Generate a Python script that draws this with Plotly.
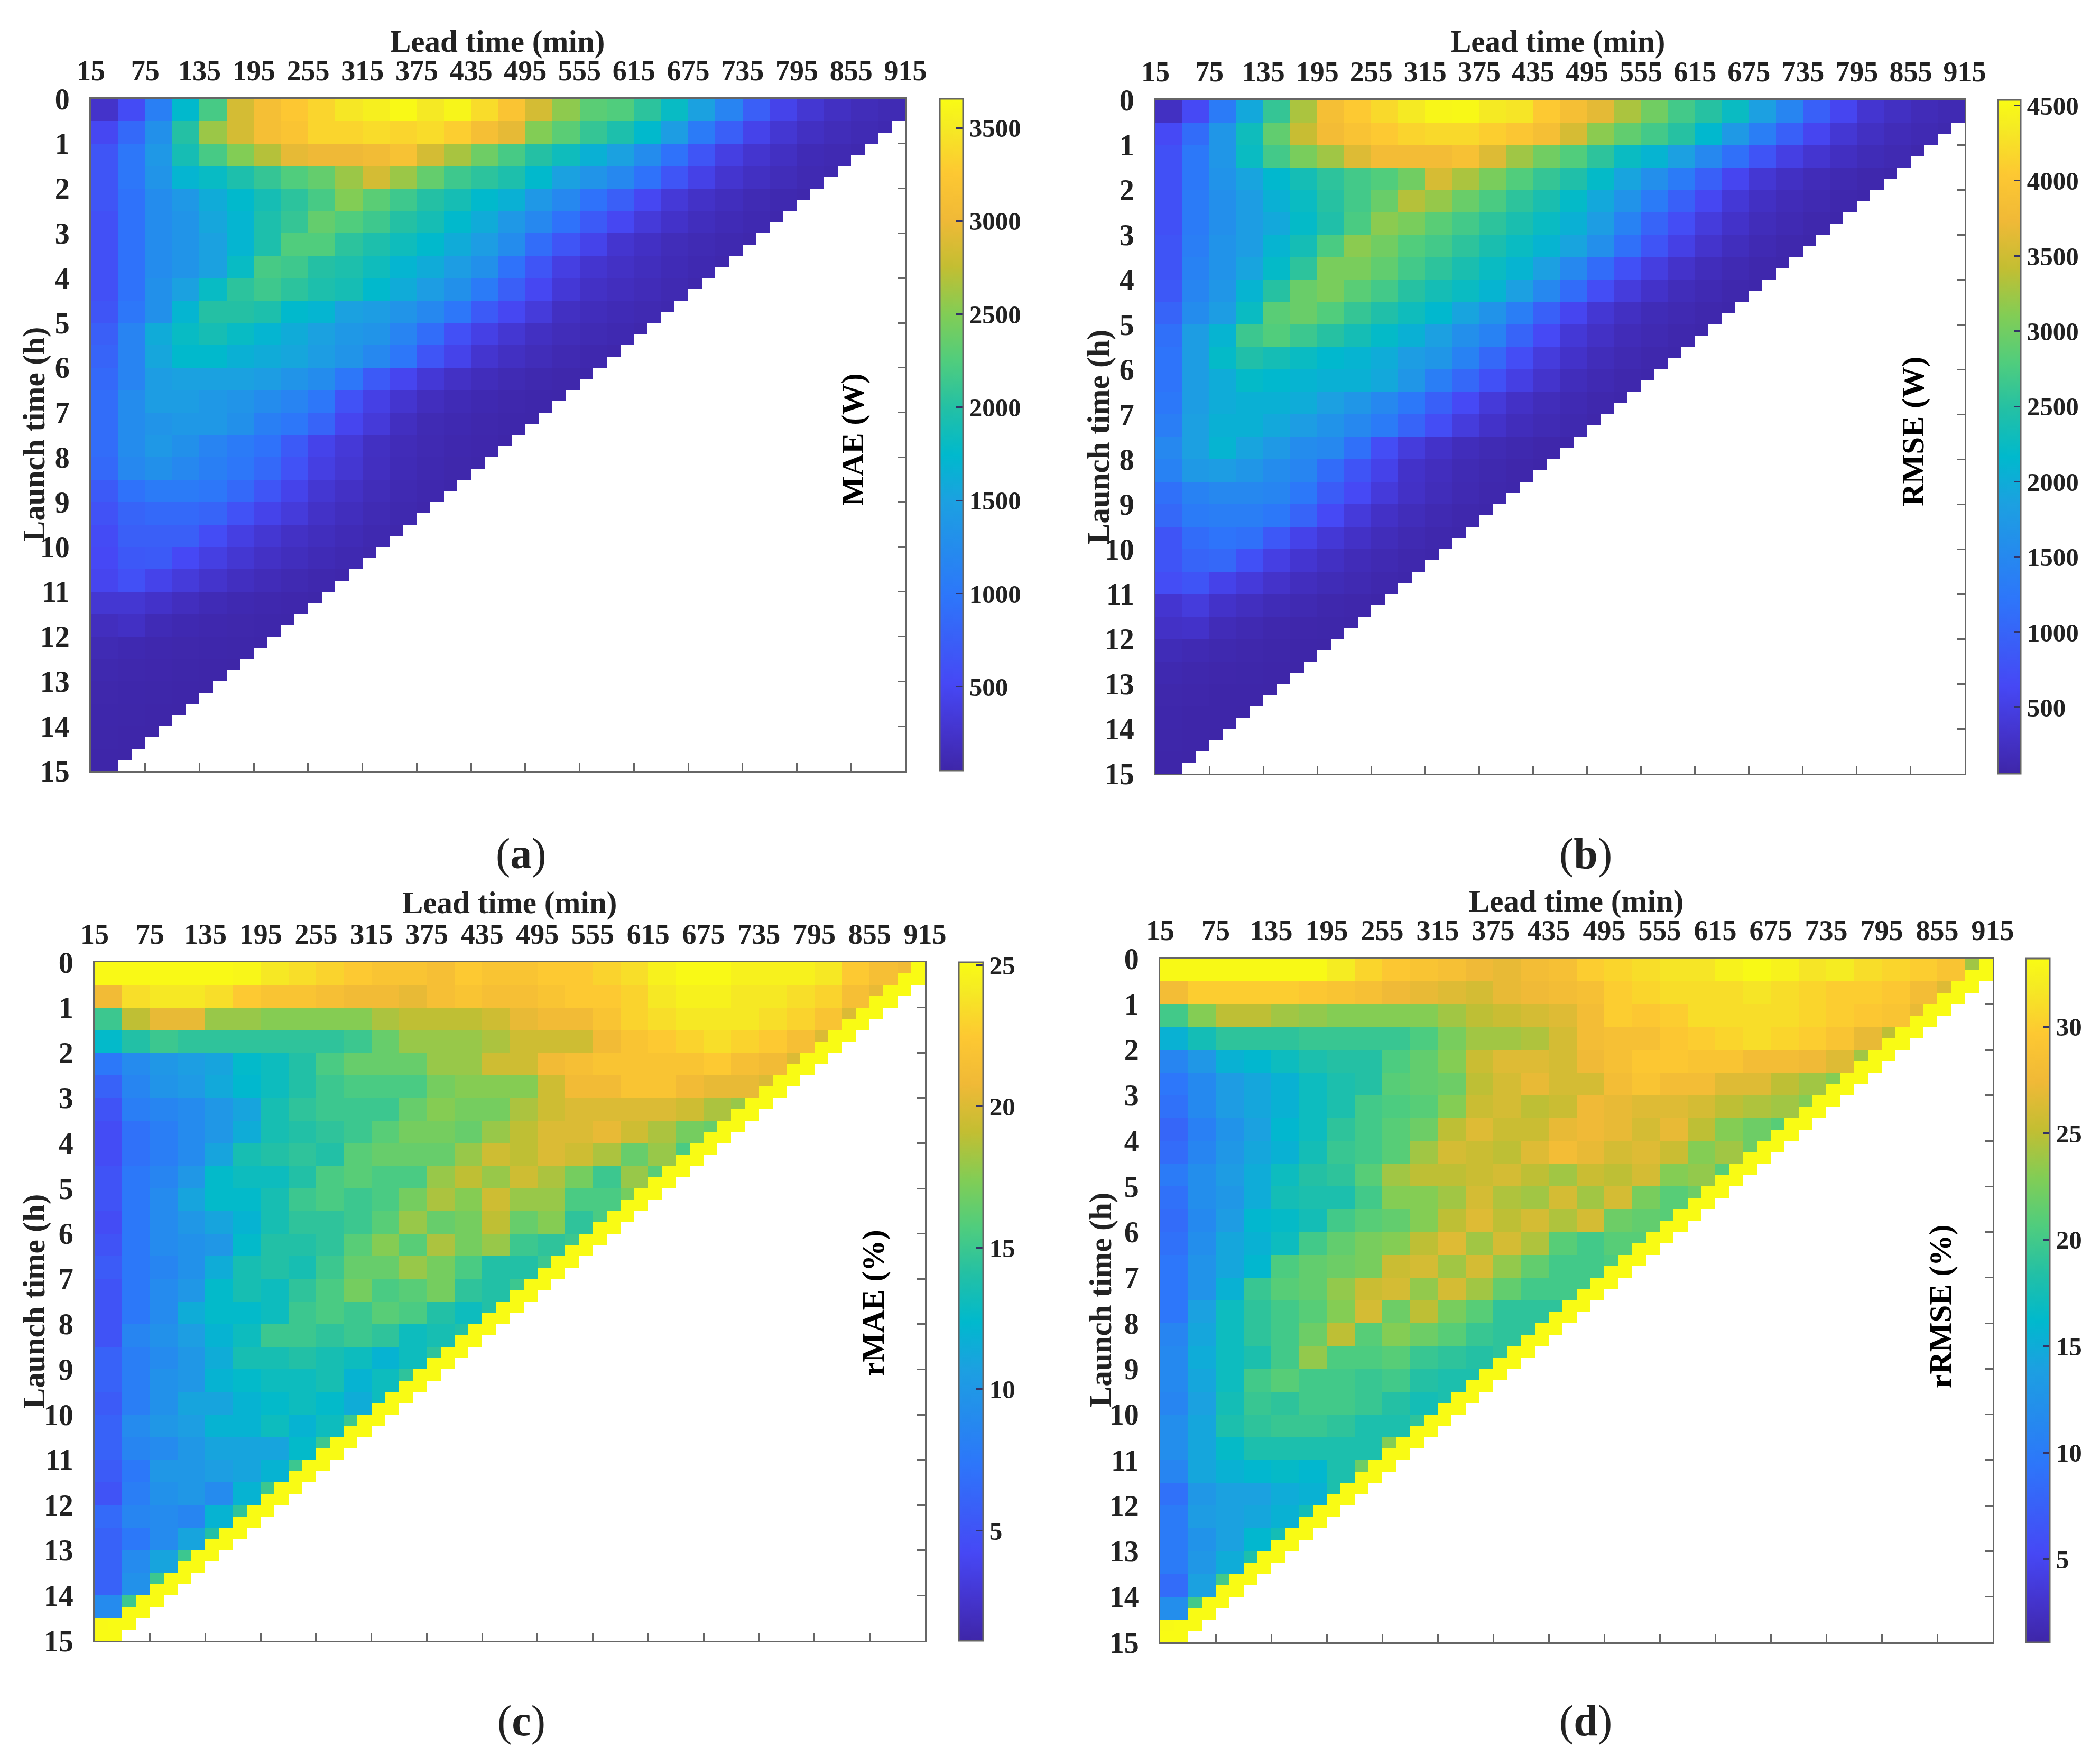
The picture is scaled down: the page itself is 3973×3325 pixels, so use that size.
import numpy as np
import plotly.graph_objects as go

W = 3973
H = 3325
PAGE_MARGIN = 8  # the page body pushes the figure this far right and down

# one row per half hour of launch time, one value per 30 min of lead time
mae_rows = [
    [250,550,1100,1750,2200,2850,3100,3250,3350,3480,3550,3640,3500,3600,3400,3200,2850,2550,2300,2250,2050,1800,1500,1150,750,450,300,200,150,120],
    [500,850,1300,2000,2600,2850,3100,3200,3350,3350,3400,3350,3400,3300,3100,2950,2500,2300,2100,1950,1750,1450,1050,750,450,300,200,150,120,100],
    [650,1000,1400,1900,2200,2500,2700,2950,3000,3000,3050,3150,2850,2650,2400,2200,2000,1850,1650,1500,1250,950,650,400,280,200,130,110,90],
    [650,1000,1350,1700,1800,1950,2100,2250,2350,2600,2850,2600,2350,2150,2050,1950,1750,1500,1350,1200,950,650,430,280,200,150,110,90],
    [650,950,1250,1400,1600,1750,1900,2050,2200,2500,2300,2150,2000,1900,1750,1650,1400,1200,950,750,500,330,230,170,120,95,80],
    [600,950,1250,1350,1550,1700,1950,2100,2350,2250,2150,2000,1900,1750,1600,1400,1200,950,700,500,340,240,170,130,100,80],
    [600,950,1250,1350,1500,1700,1950,2250,2250,2050,1950,1850,1750,1600,1450,1250,900,650,450,280,210,150,120,95,80],
    [600,950,1250,1350,1500,1800,2200,2150,2000,1950,1850,1700,1600,1450,1300,950,650,400,280,220,170,130,100,80],
    [600,950,1300,1500,1800,2050,2150,2050,1950,1900,1750,1600,1450,1300,1050,750,500,320,220,180,140,105,80],
    [650,1000,1300,1700,2000,2000,1950,1750,1700,1500,1450,1350,1200,1000,700,500,350,200,160,130,110,90],
    [750,1150,1600,1800,1900,1800,1700,1600,1500,1400,1350,1150,900,600,420,300,200,150,120,100,80],
    [800,1150,1550,1750,1750,1650,1600,1550,1450,1350,1200,1000,650,450,280,200,150,110,85,70],
    [850,1150,1450,1500,1500,1500,1450,1350,1250,1000,700,480,320,220,160,120,90,75,60],
    [900,1250,1450,1450,1400,1350,1250,1150,1000,620,420,280,180,130,100,80,65,60],
    [900,1250,1350,1400,1400,1300,1100,1000,800,480,340,190,120,100,80,65,60],
    [900,1250,1400,1300,1150,1050,950,700,450,330,200,140,110,85,70,55],
    [850,1200,1300,1200,1100,1000,850,620,400,300,190,130,95,75,60],
    [700,950,1050,1050,1000,850,650,450,300,220,150,110,85,65],
    [620,800,850,850,800,620,450,350,230,170,120,90,70],
    [550,750,750,750,560,400,300,220,170,130,95,75],
    [520,680,700,520,400,300,220,170,130,100,80],
    [480,600,450,350,260,190,140,110,85,70],
    [300,300,240,180,130,100,85,70,60],
    [180,210,130,100,85,75,65,60],
    [120,100,85,75,65,60,55],
    [90,80,70,60,55,50],
    [75,65,60,55,50],
    [65,60,55,50],
    [60,55,50],
    [55,50],
]

rmse_rows = [
    [250,650,1300,1950,2600,3300,3850,4050,4200,4350,4480,4500,4350,4300,4050,3850,3650,3300,3000,2700,2500,2250,1850,1450,950,600,350,250,180,140],
    [650,1100,1700,2300,2900,3450,3800,3950,4050,4150,4200,4200,4100,4000,3850,3550,3150,2900,2700,2500,2150,1750,1350,950,600,380,250,180,140,110],
    [750,1250,1700,2250,2700,3050,3250,3600,3800,3800,3800,3900,3600,3250,3000,2800,2550,2250,2100,1850,1500,1150,800,500,350,240,170,130,100],
    [750,1250,1650,1900,2150,2350,2550,2700,2800,3000,3550,3300,3050,2800,2600,2450,2200,1900,1600,1300,950,600,380,260,180,130,100,80],
    [750,1300,1600,1800,2050,2250,2500,2700,2950,3350,3200,2950,2750,2550,2400,2200,1950,1650,1300,950,620,400,260,180,130,100,80],
    [750,1300,1600,1800,1950,2200,2450,2750,3150,3050,2850,2700,2550,2400,2250,2050,1800,1400,1000,700,450,300,190,140,100,80],
    [800,1350,1650,1800,2100,2350,2750,3150,3000,2800,2700,2550,2400,2250,2100,1900,1600,1150,800,520,320,210,140,100,80],
    [800,1400,1650,1900,2200,2550,3050,3050,2900,2700,2550,2400,2250,2100,1850,1500,1100,750,480,310,200,140,100,80],
    [850,1450,1700,2100,2500,2950,3050,2850,2700,2500,2350,2250,2100,1850,1500,1100,700,450,300,190,140,100,80],
    [1000,1550,1800,2250,2850,2950,2800,2600,2450,2300,2150,1900,1650,1350,950,600,380,250,170,130,100,80],
    [1150,1800,2100,2650,2800,2650,2500,2350,2200,2050,1850,1600,1400,1000,650,400,270,180,130,100,80],
    [1200,1800,2200,2450,2350,2250,2150,2100,2000,1800,1700,1400,1050,700,450,300,190,130,100,80],
    [1200,1800,2000,2200,2150,2100,2050,2050,1950,1700,1350,1050,750,500,320,200,140,100,80],
    [1250,1800,2000,2050,2050,2000,1850,1700,1500,1250,950,650,420,280,190,140,100,80],
    [1350,1850,2050,2050,1950,1800,1650,1500,1300,1000,700,450,300,200,150,110,85],
    [1500,1850,2100,1900,1750,1550,1500,1150,700,450,300,200,150,110,85,70],
    [1400,1750,1800,1700,1550,1450,1100,800,550,300,220,150,110,85,70],
    [1150,1400,1500,1500,1450,1250,900,650,430,280,190,130,100,80],
    [1050,1300,1350,1350,1250,1000,650,430,280,190,130,100,80],
    [800,1100,1200,1150,850,550,400,280,190,130,100,80],
    [800,1000,1050,750,500,350,260,180,130,100,80],
    [700,800,550,430,310,220,170,130,100,80],
    [350,450,300,230,170,130,100,85,70],
    [280,300,180,130,100,85,75,65],
    [170,140,110,90,75,65,60],
    [120,100,85,75,65,60],
    [90,85,70,65,60],
    [80,70,65,60],
    [75,65,60],
    [70,60],
]

rmae_rows = [
    [25,25,25,25,25,24.8,24,23.5,23,22.5,22,22,21.5,22.5,22,22,22.5,22.5,23,23.5,24.5,25,25,24.5,24.5,24.5,24,22.5,21.5,21],
    [21,23.5,24,24,23.5,22.5,22,22,21.5,21,21,20.5,21.5,22,21.5,21.5,22,22.5,22.5,23,24,24.5,24.5,24,24,23.5,23,21.5,20.5,20.5],
    [15,19,20.5,20.5,18,18,17.5,17.5,17.5,17.5,18.5,19,19,19,19.5,20.5,21,21,22,23,23.5,24,24,24,23.5,23,22,20,19.5],
    [12.5,14,15,14.5,14.5,14.5,14.5,14.5,14.5,15,16.5,18,18,18,18.5,19.5,19.5,19.5,21,22,22.5,23,23.5,23,22.5,21.5,20,19],
    [7.5,9,10,10.5,11,12.5,13,14,15.5,16.5,16.5,16.5,18,18,19.5,19.5,21,21.5,22,22,22,22,22.5,21.5,21,20,18.5],
    [6,8.5,9.7,10.2,11.3,12.3,13,14,15,15.5,15.5,15.5,17,17.5,17.5,17.5,19.5,21,21,22,22,21,20.5,20.5,20,18],
    [5,8,8.5,9,10,11,13.5,14.5,15,15,15,16.5,17.5,17,17,18.5,19.5,20,20,20,20,19.5,18.5,18,17],
    [4.5,7,8,9,10,11.5,13.5,14,14.5,15,16,17,17,16.5,18,19,20,20,20.5,19.5,18.5,17,16.5,16],
    [4.5,7,8,9,11,13.5,14,14.5,14,16,16.5,16.5,16.5,18,19.5,19,20,19.5,18.5,16.5,18,15.5,15],
    [5,7.5,8.5,10,12.5,13,13,14,15.5,16,15.5,15.5,18,19,18,19.5,18.5,17,15,18,16,14],
    [5,7.5,9,11,12.5,12.5,13.5,15,15.5,15,15.5,17,18.5,17.5,19.5,18,18,15.5,15.5,17,15],
    [4.5,7.5,9,10,11,12,13.5,14.5,14.5,15,16,18,16.5,17,19,16.5,17.5,14.5,15.5,15],
    [5,7.5,9,9.5,10,12.5,14,14,14.5,16,17.5,16,18.5,17,18,15,14.5,15,15],
    [5.5,7.5,8.5,9.5,11.5,13.5,14,13.5,15,16.5,16.5,18,17,15.5,14,14,15,15],
    [5,7.5,9,10,12.5,13.5,13,14.5,15.5,17,15.5,16,17,14.5,14,15,15],
    [5,7.5,9,11.5,12.5,12.5,13,15,15.5,15,16,15.5,14,13,14,15],
    [5,8.5,9.5,10.5,12,13,15,15,14.5,15,14.5,13,13.5,14,14],
    [6,8,9,10,11.5,13.5,13.5,14,13.5,13,12,13,14.5,15],
    [6,8,9.5,10,12,12.5,13,13,13.5,12,13,14.5,15],
    [5.5,8,9.5,11,11,12,12.5,13,12.5,11.5,13,15],
    [6,9,10,10.5,12,12,13,12,13,15,15],
    [6,8.5,9,10,11,11,11,12.5,15,16],
    [5.5,7.5,10,10,10.5,11,12,15,16],
    [5,8,9.5,10,9,12,15,15],
    [6.5,8.5,9,8.5,12,14.5,14.5],
    [6,7.5,9,11,14,14],
    [6,9,11,15,15],
    [6,9.5,15,15],
    [9,15,15],
    [25,25],
]

rrmse_rows = [
    [33,33,33,33,33,33,32,30.5,29.5,29,28.5,27.5,27,28,28.5,30,30.5,31,31.5,31.5,32.5,33,32.5,31.5,32,31,30.5,30,29,24],
    [28,30,30,30,30,29.5,29,28.5,27.5,27,26.5,26,27,27.5,28,28.5,30,30.5,31,31,31,31.5,31,30.5,30,30,29.5,28,26.5,24],
    [20,23,25,25,24,23.5,23,23,23,23,24,25,25.5,26,26.5,28,30,29.5,30,31,31,31,31,30.5,30,29.5,29,27,24],
    [15.5,17.5,19,19,19,19.5,19.5,19.5,19.5,20.5,22.5,24,24,24.5,26,28,28.5,28.5,29.5,30,30.5,31,30.5,30,29,27,25,24],
    [11,13,15.5,16,17,18,18.5,18.5,20.5,21.5,23,25.5,26.5,26.5,26,27.5,28.5,29.5,29.5,29,29,28,28,27.5,26.5,24,23],
    [9.5,11.5,13.5,14.5,15.5,17,18,18.5,21,21.5,22,25,26,27,26,26,28,29,28,28,26.5,26.5,25,24,23,22],
    [9,11.5,13.5,14.5,15.5,17,18,20,20.5,21,23,25.5,26,25,25.5,27.5,27,26.5,26.5,26,25,24.5,24,23,22],
    [8,10.5,12.5,14,16,17,19,20,21,22,25,26.5,25.5,25.5,27,27.5,27,26,27,25,23,22,21,21],
    [8.5,11,13,14.5,15.5,17.5,19.5,20,21,24,26,25.5,25,26.5,28,27,26,26.5,25.5,23,24,22,20],
    [10,12,13.5,15,17,18.5,19,21,24,25,25,25.5,26,25,24,25.5,25,26,23,23.5,21,20],
    [9,12,13,15,17.5,18,18,20,23,23,24,26,24.5,24,26,24,26,22.5,21,22,20],
    [8.5,11.5,13.5,16,16.5,17.5,20,21,21.5,23,25,26.5,25,26,24.5,26,22,21.5,21,21],
    [9,12,14.5,15.5,17,20,21.5,22.5,23,25,26.5,24,26,24.5,21,20,21,21,20],
    [9.5,12.5,14.5,16,20.5,21.5,22,22.5,25.5,26,24,26,23.5,21.5,20,20,20.5,20],
    [9.5,12.5,15.5,19.5,21,21.5,23.5,25.5,26,23.5,26,24,21.5,20,20,20,19.5],
    [9.5,14,17,19,20,21,23,26,22,25,22.5,21,19,19,19,19],
    [11,14.5,17,19,20,22,25,21,23,22,21,19.5,19,19,19],
    [11.5,15,17,18,20,23.5,20.5,20.5,21,19.5,19,18.5,19,19],
    [11.5,14.5,17,20,21,20,20,19.5,20,18.5,18,18,19],
    [11,14,17.5,19.5,19,20,20,19.5,18.5,17.5,18,19],
    [12,14.5,18,19,19.5,19.5,19,18,18,19,21],
    [12,14.5,16.5,18,18,18,18,18,23,25],
    [11,14.5,15.5,16,16.5,16,18,22,20],
    [9,13,14,14,15,15.5,18,20],
    [10,13.5,14,14.5,15.5,17.5,20],
    [10,12.5,14,16,17.5,18],
    [10,13,15,18,18],
    [8.5,14,20,20],
    [12,20,20],
    [33,33],
]

lead_ticks = list(range(15, 916, 60))
launch_ticks = list(range(0, 16))
lead_centers = [22.5 + 15 * i for i in range(60)]
launch_centers = [0.125 + 0.25 * i for i in range(60)]

parula = [
    [0.00, "rgb(62,38,168)"],
    [0.06, "rgb(68,52,205)"],
    [0.13, "rgb(70,72,245)"],
    [0.26, "rgb(45,118,250)"],
    [0.40, "rgb(28,160,225)"],
    [0.47, "rgb(0,185,205)"],
    [0.54, "rgb(35,192,165)"],
    [0.61, "rgb(80,205,125)"],
    [0.68, "rgb(130,205,85)"],
    [0.75, "rgb(195,190,50)"],
    [0.82, "rgb(240,185,55)"],
    [0.89, "rgb(253,200,50)"],
    [0.96, "rgb(245,235,35)"],
    [1.00, "rgb(249,251,20)"],
]

FONT = "Liberation Serif"
DARK = "#222222"
GREY = "#666666"

# pixel boxes: plot left,right,top,bottom then colorbar left,right
panels = [
    dict(rows=mae_rows, name="MAE (W)", tag="a", zmin=49, zmax=3656, edge=None,
         ticks=[500, 1000, 1500, 2000, 2500, 3000, 3500],
         box=(172, 1713, 187, 1459), cb=(1778, 1822),
         lead=(941, 78), launch=(64, 822), unit=(1613, 832), label=(986, 1615)),
    dict(rows=rmse_rows, name="RMSE (W)", tag="b", zmin=61, zmax=4537, edge=None,
         ticks=[500, 1000, 1500, 2000, 2500, 3000, 3500, 4000, 4500],
         box=(2186, 3717, 189, 1464), cb=(3780, 3823),
         lead=(2947, 78), launch=(2078, 827), unit=(3619, 816), label=(3000, 1615)),
    dict(rows=rmae_rows, name="rMAE (%)", tag="c", zmin=1.1, zmax=25.1, edge=25.1,
         ticks=[5, 10, 15, 20, 25],
         box=(179, 1750, 1821, 3105), cb=(1814, 1860),
         lead=(964, 1708), launch=(64, 2463), unit=(1652, 2466), label=(986, 3256)),
    dict(rows=rrmse_rows, name="rRMSE (%)", tag="d", zmin=1.1, zmax=33.2, edge=33.2,
         ticks=[5, 10, 15, 20, 25, 30],
         box=(2195, 3770, 1814, 3108), cb=(3833, 3878),
         lead=(2982, 1705), launch=(2082, 2460), unit=(3671, 2472), label=(3000, 3256)),
]


def expand(rows, edge):
    # each read value fills a 2x2 block of the 15 min grid, the rest stays empty
    z = np.full((60, 60), np.nan)
    for r in range(60):
        n = min(61 - r, 60)
        for c in range(n):
            z[r, c] = rows[r // 2][c // 2]
        if edge is not None:
            z[r, 59 - r if r < 59 else 0:n] = edge
    return z


def px_x(x):
    return (x - PAGE_MARGIN) / W


def px_y(y):
    return 1 - (y - PAGE_MARGIN) / H


def text(x, y, s, size, angle=0, color=DARK):
    return dict(
        x=px_x(x), y=px_y(y), xref="paper", yref="paper", text=s, showarrow=False,
        textangle=angle, xanchor="center", yanchor="middle",
        font=dict(family=FONT, size=size, color=color),
    )


fig = go.Figure()
annotations = []
layout = {}

for i, p in enumerate(panels):
    main = str(i + 1)
    over = str(i + 5)
    left, right, top, bottom = p["box"]
    dom_x = [px_x(left), px_x(right)]
    dom_y = [px_y(bottom), px_y(top)]
    fig.add_trace(go.Heatmap(
        x=lead_centers,
        y=launch_centers,
        z=expand(p["rows"], p["edge"]).tolist(),
        xaxis="x" + main,
        yaxis="y" + main,
        zmin=p["zmin"],
        zmax=p["zmax"],
        colorscale=parula,
        hoverongaps=False,
        colorbar=dict(
            x=px_x(p["cb"][0]), xanchor="left", xpad=0, ypad=0,
            y=dom_y[0], yanchor="bottom",
            len=dom_y[1] - dom_y[0], lenmode="fraction",
            thickness=p["cb"][1] - p["cb"][0], thicknessmode="pixels",
            tickvals=p["ticks"], ticks="inside", ticklen=14, tickwidth=3, tickcolor="#333366",
            outlinecolor=GREY, outlinewidth=3,
            tickfont=dict(family=FONT, size=49, color=DARK, weight="bold"),
        ),
    ))
    # second pair of axes only carries the ticks on the bottom and right edges
    fig.add_trace(go.Scatter(
        x=lead_ticks, y=launch_ticks[:len(lead_ticks)], mode="none", showlegend=False,
        hoverinfo="skip", xaxis="x" + over, yaxis="y" + over,
    ))
    layout["xaxis" + main] = dict(
        domain=dom_x, range=[15, 915], anchor="y" + main, side="top",
        tickvals=lead_ticks, ticks="", showgrid=False, zeroline=False,
        showline=True, mirror=True, linecolor=GREY, linewidth=3, ticklabelstandoff=10,
        tickfont=dict(family=FONT, size=54, color=DARK, weight="bold"), tickangle=0,
    )
    layout["yaxis" + main] = dict(
        domain=dom_y, range=[15, 0], anchor="x" + main, side="left",
        tickvals=launch_ticks, ticks="", showgrid=False, zeroline=False,
        showline=True, mirror=True, linecolor=GREY, linewidth=3, ticklabelstandoff=26,
        tickfont=dict(family=FONT, size=56, color=DARK, weight="bold"),
    )
    layout["xaxis" + over] = dict(
        domain=dom_x, range=[15, 915], anchor="y" + over, overlaying="x" + main, side="bottom",
        tickvals=lead_ticks, ticks="inside", ticklen=15, tickwidth=3, tickcolor=GREY,
        showticklabels=False, showgrid=False, zeroline=False,
    )
    layout["yaxis" + over] = dict(
        domain=dom_y, range=[15, 0], anchor="x" + over, overlaying="y" + main, side="right",
        tickvals=launch_ticks, ticks="inside", ticklen=15, tickwidth=3, tickcolor=GREY,
        showticklabels=False, showgrid=False, zeroline=False,
    )
    annotations.append(text(*p["lead"], "<b>Lead time (min)</b>", 59))
    annotations.append(text(*p["launch"], "<b>Launch time (h)</b>", 59, angle=-90))
    annotations.append(text(*p["unit"], "<b>" + p["name"] + "</b>", 59, angle=-90, color="black"))
    annotations.append(text(*p["label"], "(<b>" + p["tag"] + "</b>)", 82))

fig.update_layout(
    width=W,
    height=H,
    margin=dict(l=0, r=0, t=0, b=0, autoexpand=False),
    paper_bgcolor="white",
    plot_bgcolor="white",
    showlegend=False,
    annotations=annotations,
    **layout,
)

fig.write_html("out.html")
